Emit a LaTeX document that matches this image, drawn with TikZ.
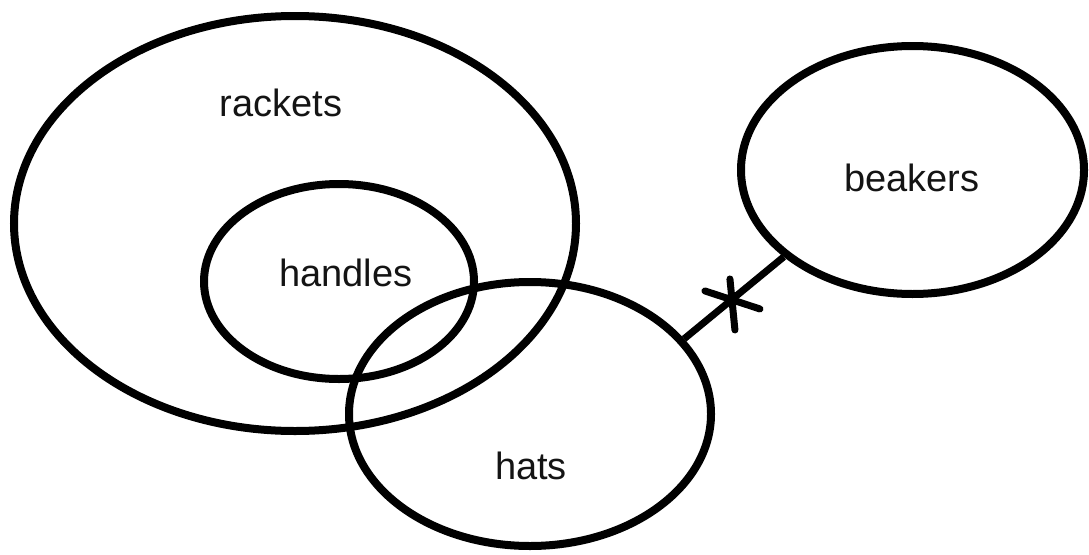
\documentclass[tikz,border=0pt]{standalone}
\usepackage{fontspec}
\setmainfont{Liberation Sans}
\usetikzlibrary{shapes.geometric,calc}

\begin{document}
\begin{tikzpicture}[
    x=1pt, y=-1pt,
    set/.style={draw, ellipse, line width=8pt, inner sep=0pt},
    lbl/.style={font=\fontsize{38}{42}\selectfont, text=black!92},
    link/.style={line width=7pt},
    cross/.style={line width=7pt, line cap=round},
]
\useasboundingbox (0,0) rectangle (1089,554);

% the sets
\node[set, minimum width=562pt, minimum height=415pt] (rackets) at (295,223.5) {};
\node[set, minimum width=270pt, minimum height=195pt] (handles) at (339,281.5) {};
\node[set, minimum width=362pt, minimum height=264pt] (hats)    at (530,414) {};
\node[set, minimum width=343pt, minimum height=248pt] (beakers) at (912.5,170) {};

% their names
\node[lbl] (rackets-lbl) at (281,103) {rackets};
\node[lbl] (handles-lbl) at (346,273) {handles};
\node[lbl] (hats-lbl)    at (531,466) {hats};
\node[lbl] (beakers-lbl) at (912,178) {beakers};

% disjoint link, crossed out
\draw[link] (hats.26) -- coordinate[pos=0.45] (cut) (beakers.214);
\draw[cross] ($(cut)+(-24,-11)$) -- ($(cut)+(31,7)$);
\draw[cross] ($(cut)+(1,-23)$) -- ($(cut)+(6,28)$);
\end{tikzpicture}
\end{document}
